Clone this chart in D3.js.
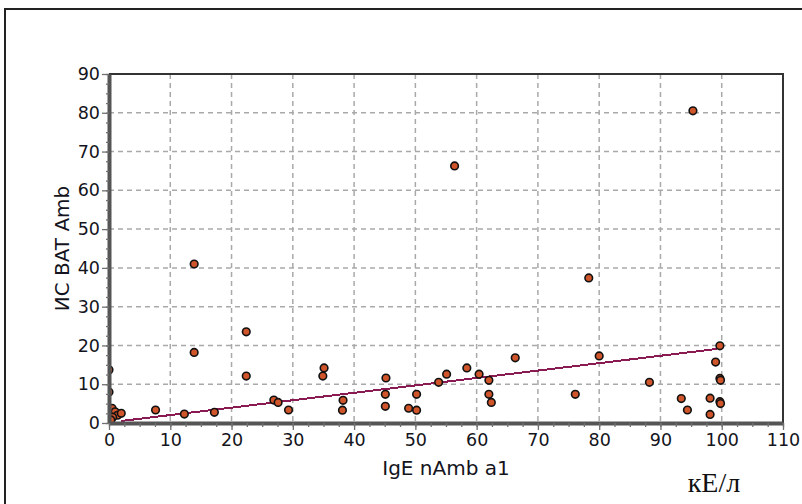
<!DOCTYPE html>
<html>
<head>
<meta charset="utf-8">
<script src="https://cdn.jsdelivr.net/npm/d3@7"></script>
<style>
    body { margin: 0; background: #fff; }
    svg { display: block; }
    .tick-label { font: 17.5px "DejaVu Sans", Verdana, sans-serif; fill: #141420; }
    .axis-title { font: 20px "DejaVu Sans", Verdana, sans-serif; fill: #141420; }
    .grid { stroke: #a9a9a9; stroke-width: 1.5; stroke-dasharray: 5 4; }
</style>
</head>
<body>
<script>
    // points: IgE nAmb a1 (x) vs ИС BAT Amb (y)
    var igeValues = [0.0, 0.0, 0.5, 1.0, 1.4, 2.0, 0.6, 0.3,
        7.6, 12.3, 13.9, 13.9, 17.2, 22.4, 22.4, 26.9, 27.6, 29.3,
        34.9, 35.1, 38.2, 38.1, 45.2, 45.1, 45.1, 48.9, 50.2, 50.2,
        53.8, 55.1, 56.4, 58.4, 60.4, 62.0, 62.0, 62.4, 66.3,
        76.1, 78.3, 80.0, 88.2, 93.4, 94.4, 95.3, 98.1, 98.1,
        99.0, 99.7, 99.7, 99.8, 99.7, 99.8];
    var batValues = [13.7, 8.0, 3.8, 2.9, 2.0, 2.5, 1.5, 0.8,
        3.35, 2.3, 41.0, 18.2, 2.75, 23.5, 12.1, 5.9, 5.3, 3.35,
        12.1, 14.2, 5.85, 3.3, 11.6, 7.4, 4.3, 3.8, 3.3, 7.4,
        10.5, 12.6, 66.3, 14.2, 12.6, 11.0, 7.4, 5.3, 16.8,
        7.4, 37.4, 17.3, 10.5, 6.3, 3.35, 80.5, 6.4, 2.2,
        15.7, 19.9, 11.5, 11.0, 5.5, 5.0];

    // trend line ends
    var trendX = [1.9, 99.2];
    var trendY = [0.5, 19.1];

    var xTicks = [0, 10, 20, 30, 40, 50, 60, 70, 80, 90, 100, 110];
    var yTicks = [0, 10, 20, 30, 40, 50, 60, 70, 80, 90];

    var width = 802, height = 504;
    var margin = { top: 74, right: 19, bottom: 81, left: 109 };
    var plotW = width - margin.left - margin.right;
    var plotH = height - margin.top - margin.bottom;

    var x = d3.scaleLinear().domain([0, 110]).range([0, plotW]);
    var y = d3.scaleLinear().domain([0, 90]).range([plotH, 0]);

    var svg = d3.select("body").append("svg")
        .attr("width", width)
        .attr("height", height);

    // outer frame
    svg.append("rect")
        .attr("x", 5).attr("y", 9)
        .attr("width", 805).attr("height", 510)
        .attr("fill", "none")
        .attr("stroke", "#222")
        .attr("stroke-width", 2);

    var g = svg.append("g")
        .attr("transform", "translate(" + margin.left + "," + margin.top + ")");

    g.append("clipPath").attr("id", "plot-clip")
        .append("rect").attr("width", plotW).attr("height", plotH);

    // grid
    g.selectAll("line.gx")
        .data(xTicks.slice(1, -1))
        .enter().append("line")
        .attr("class", "grid")
        .attr("x1", function (d) { return x(d); })
        .attr("x2", function (d) { return x(d); })
        .attr("y1", 0).attr("y2", plotH);

    g.selectAll("line.gy")
        .data(yTicks.slice(1, -1))
        .enter().append("line")
        .attr("class", "grid")
        .attr("y1", function (d) { return y(d); })
        .attr("y2", function (d) { return y(d); })
        .attr("x1", 0).attr("x2", plotW);

    // top and right border
    g.append("path")
        .attr("d", "M0,0H" + plotW + "V" + plotH)
        .attr("fill", "none")
        .attr("stroke", "#333")
        .attr("stroke-width", 2);

    // trend line (aliased like the original)
    var line = d3.line()
        .x(function (d) { return x(d[0]); })
        .y(function (d) { return y(d[1]); });
    g.append("path")
        .datum(d3.zip(trendX, trendY))
        .attr("d", line)
        .attr("fill", "none")
        .attr("stroke", "#8a1a52")
        .attr("stroke-width", 2)
        .attr("shape-rendering", "crispEdges");

    // points
    g.append("g")
        .attr("clip-path", "url(#plot-clip)")
        .selectAll("circle")
        .data(d3.zip(igeValues, batValues))
        .enter().append("circle")
        .attr("cx", function (d) { return x(d[0]); })
        .attr("cy", function (d) { return y(d[1]); })
        .attr("r", 3.8)
        .attr("fill", "#d0552a")
        .attr("stroke", "#111")
        .attr("stroke-width", 1.6);

    // axes
    var xAxis = g.append("g")
        .attr("transform", "translate(0," + plotH + ")")
        .call(d3.axisBottom(x).tickValues(d3.range(0, 110.1, 2.5)).tickSize(4).tickSizeOuter(0).tickFormat(""));
    var yAxis = g.append("g")
        .call(d3.axisLeft(y).tickValues(d3.range(0, 90.1, 2.5)).tickSize(3).tickSizeOuter(0).tickFormat(""));

    g.append("g")
        .attr("transform", "translate(0," + plotH + ")")
        .call(d3.axisBottom(x).tickValues(xTicks).tickSize(7).tickPadding(4))
        .call(function (a) {
            a.select(".domain").remove();
            a.selectAll("text").attr("class", "tick-label").attr("fill", null);
        });
    g.append("g")
        .call(d3.axisLeft(y).tickValues(yTicks).tickSize(7).tickPadding(2))
        .call(function (a) {
            a.select(".domain").remove();
            a.selectAll("text").attr("class", "tick-label").attr("fill", null);
        });

    g.selectAll(".tick line").attr("stroke", "#707070").attr("stroke-width", 1.3);
    xAxis.select(".domain").attr("stroke", "#555").attr("stroke-width", 4);
    yAxis.select(".domain").attr("stroke", "#555").attr("stroke-width", 4);

    // axis titles
    g.append("text")
        .attr("class", "axis-title")
        .attr("x", plotW / 2)
        .attr("y", plotH + 52)
        .attr("text-anchor", "middle")
        .text("IgE nAmb a1");

    g.append("text")
        .attr("class", "axis-title")
        .attr("transform", "translate(-40," + (plotH / 2) + ") rotate(-90)")
        .attr("text-anchor", "middle")
        .text("ИС BAT Amb");

    svg.append("text")
        .attr("x", 714)
        .attr("y", 492)
        .attr("text-anchor", "middle")
        .style("font", "28px 'Liberation Serif', 'Times New Roman', serif")
        .style("fill", "#111")
        .text("кЕ/л");
</script>
</body>
</html>
